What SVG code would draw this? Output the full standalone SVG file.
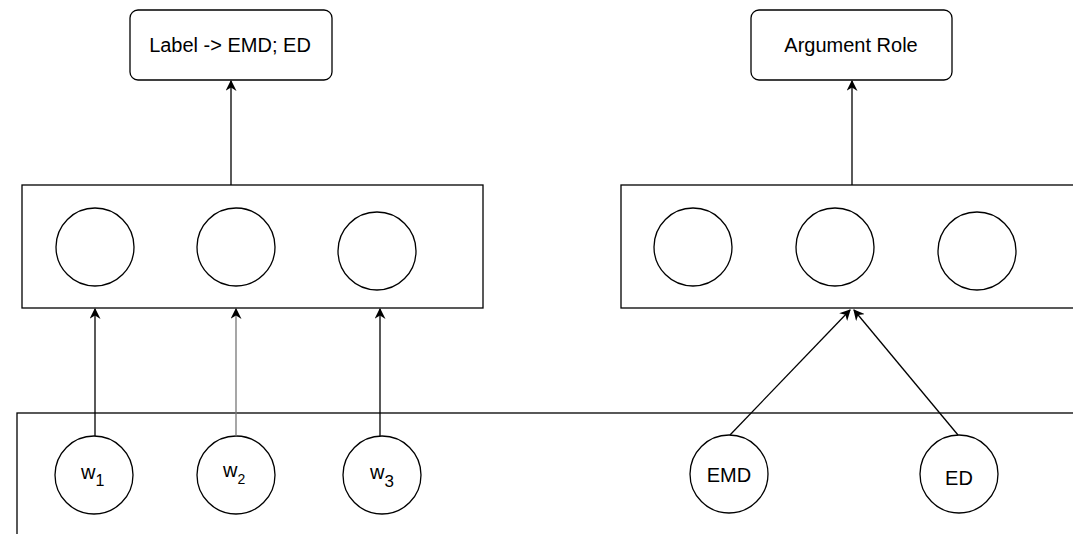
<svg xmlns="http://www.w3.org/2000/svg" width="1073" height="534" viewBox="0 0 1073 534">
<style>
.box{fill:#fff;stroke:#000;stroke-width:1.3}
.c{fill:#fff;stroke:#000;stroke-width:1.3}
.t{font-family:"Liberation Sans",Arial,sans-serif;font-size:20px;fill:#000;text-anchor:middle}
.w{font-family:"Liberation Sans",Arial,sans-serif;font-size:20px;fill:#000}
.e{stroke:#000;stroke-width:1.3;fill:none;marker-end:url(#arr)}
</style>
<defs>
<marker id="arr" viewBox="0 0 10 10" refX="9" refY="5" markerWidth="11" markerHeight="11" markerUnits="userSpaceOnUse" orient="auto">
<path d="M0,0 L10,5 L0,10 L3,5 Z" fill="#000"/>
</marker>
</defs>
<rect width="1073" height="534" fill="#fff"/>
<g id="bottom-panel"><rect class="box" x="17" y="413" width="1070" height="140"/></g>
<g id="label-box"><rect class="box" x="130" y="10" width="202" height="70" rx="8"/><text class="t" x="230" y="52">Label -&gt; EMD; ED</text></g>
<g id="role-box"><rect class="box" x="751" y="10" width="201" height="70" rx="8"/><text class="t" x="851" y="52">Argument Role</text></g>
<g id="left-layer"><rect class="box" x="22" y="185" width="461" height="123"/>
<circle class="c" cx="95" cy="247" r="39"/><circle class="c" cx="236" cy="247" r="39"/><circle class="c" cx="377" cy="251" r="39"/></g>
<g id="right-layer"><rect class="box" x="621" y="185" width="470" height="123"/>
<circle class="c" cx="693" cy="247" r="39"/><circle class="c" cx="835" cy="247" r="39"/><circle class="c" cx="977" cy="251" r="39"/></g>
<g id="w1"><circle class="c" cx="94" cy="475" r="39"/><text class="w" x="81" y="479">w<tspan font-size="16" dy="7">1</tspan></text></g>
<g id="w2"><circle class="c" cx="236" cy="475" r="39"/><text class="w" x="223" y="477">w<tspan font-size="14" dy="7">2</tspan></text></g>
<g id="w3"><circle class="c" cx="382" cy="475" r="39"/><text class="w" x="370" y="479">w<tspan font-size="17" dy="8">3</tspan></text></g>
<g id="emd"><circle class="c" cx="729" cy="474" r="39"/><text class="t" x="729" y="482">EMD</text></g>
<g id="ed"><circle class="c" cx="959" cy="474" r="39"/><text class="t" x="959" y="485">ED</text></g>
<g id="connectors">
<line class="e" x1="231" y1="185" x2="231" y2="81"/>
<line class="e" x1="852" y1="185" x2="852" y2="81"/>
<line class="e" x1="95" y1="436" x2="95" y2="309"/>
<line class="e" x1="236" y1="436" x2="236" y2="309" style="stroke:#777"/>
<line class="e" x1="380" y1="436" x2="380" y2="309"/>
<line class="e" x1="730" y1="435" x2="850" y2="310"/>
<line class="e" x1="958" y1="435" x2="854" y2="310"/>
</g>
</svg>
